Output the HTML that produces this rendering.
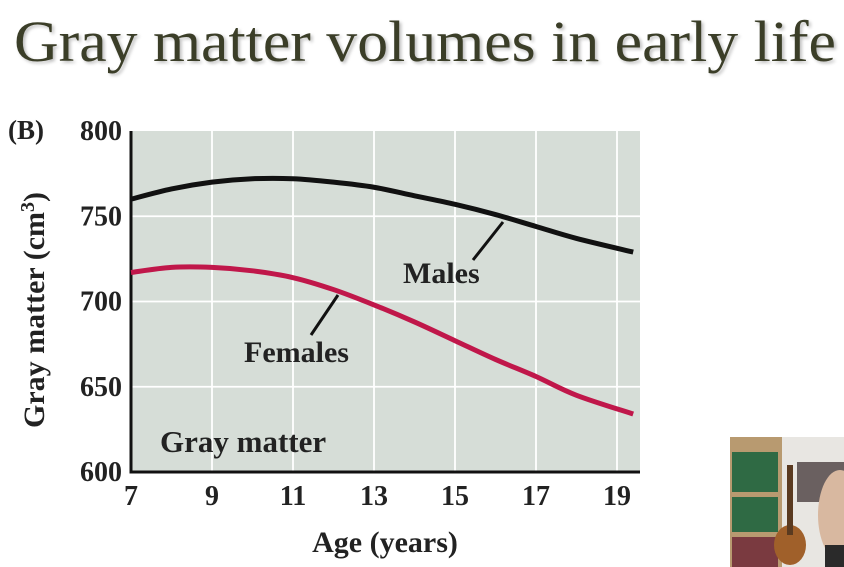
<!DOCTYPE html>
<html><head><meta charset="utf-8"><style>
html,body{margin:0;padding:0;background:#fff;}
body{width:844px;height:567px;overflow:hidden;position:relative;font-family:"Liberation Serif",serif;}
svg{position:absolute;left:0;top:0;}
</style></head><body>
<svg width="844" height="567">
<text x="14" y="61" font-family="Liberation Serif, serif" font-size="58" fill="#3b3e28" textLength="822" lengthAdjust="spacingAndGlyphs" style="text-shadow:2px 2px 3px rgba(0,0,0,0.25)">Gray matter volumes in early life</text>
<g id="chart"></g>
<g>
<rect x="730" y="437" width="114" height="130" fill="#e8e6e2"/>
<rect x="730" y="437" width="52" height="130" fill="#b89a70"/>
<rect x="732" y="452" width="46" height="40" fill="#2f6a44"/>
<rect x="732" y="497" width="46" height="35" fill="#2f6a44"/>
<rect x="732" y="537" width="46" height="30" fill="#7a3a40"/>
<rect x="797" y="462" width="47" height="40" fill="#6a6060"/>
<ellipse cx="790" cy="545" rx="16" ry="20" fill="#a0602a"/>
<rect x="787" y="465" width="6" height="70" fill="#5a3a20"/>
<ellipse cx="840" cy="515" rx="22" ry="45" fill="#d8b8a0"/>
<rect x="825" y="545" width="19" height="22" fill="#2a2a2a"/>
</g>
</svg>
<script>
const ages=[7,8,9,10,11,12,13,14,15,16,17,18,19.4];
const males=[760,766,770,772,772,770,767,762,757,751,744,737,729];
const females=[717,720,720,718,714,707,698,688,677,666,656,645,634];
const xTicks=[7,9,11,13,15,17,19];
const yTicks=[600,650,700,750,800];
const NS="http://www.w3.org/2000/svg";
const X0=131,X1=640,Y0=472,Y1=131;
function xs(a){return X0+(a-7)*(617-X0)/12;}
function ys(v){return Y0-(v-600)*(Y0-Y1)/200;}
const g=document.getElementById('chart');
function mk(t,at,p){const e=document.createElementNS(NS,t);for(const k in at)e.setAttribute(k,at[k]);(p||g).appendChild(e);return e;}
const bg=mk('rect',{x:X0,y:Y1,width:X1-X0,height:Y0-Y1,fill:'#d6ddd7'});


xTicks.slice(1).forEach(a=>{const l=mk('line',{x1:xs(a),x2:xs(a),y1:Y1,y2:Y0,stroke:'#fff','stroke-width':1.8});

});
yTicks.slice(1,4).forEach(v=>{const l=mk('line',{x1:X0,x2:X1,y1:ys(v),y2:ys(v),stroke:'#fff','stroke-width':1.8});

});
const ax=mk('path',{d:`M${X0},${Y1} L${X0},${Y0} L${X1},${Y0}`,fill:'none',stroke:'#111','stroke-width':3});


xTicks.forEach(a=>{const t=mk('text',{x:xs(a),y:505,'text-anchor':'middle','font-size':28,'font-weight':'bold',fill:'#222'});t.textContent=a;

});
yTicks.forEach(v=>{const t=mk('text',{x:122,y:ys(v)+9,'text-anchor':'end','font-size':28,'font-weight':'bold',fill:'#222'});t.textContent=v;

});
function smooth(vals){let p=[];for(let i=0;i<vals.length;i++)p.push([xs(ages[i]),ys(vals[i])]);
let d='M'+p[0];for(let i=0;i<p.length-1;i++){const p0=p[i-1]||p[i],p1=p[i],p2=p[i+1],p3=p[i+2]||p2;
const c1=[p1[0]+(p2[0]-p0[0])/6,p1[1]+(p2[1]-p0[1])/6],c2=[p2[0]-(p3[0]-p1[0])/6,p2[1]-(p3[1]-p1[1])/6];
d+=` C${c1} ${c2} ${p2}`;}return d;}
const ml=mk('path',{d:smooth(males),fill:'none',stroke:'#111','stroke-width':5,'stroke-linecap':'butt'});


const fl=mk('path',{d:smooth(females),fill:'none',stroke:'#c0174a','stroke-width':5,'stroke-linecap':'butt'});


const l1=mk('line',{x1:503,y1:222,x2:473,y2:260,stroke:'#111','stroke-width':3});


const l2=mk('line',{x1:338,y1:295,x2:311,y2:335,stroke:'#111','stroke-width':3});


function txt(x,y,s,fs,w,name,anchor){const t=mk('text',{x:x,y:y,'font-size':fs,'font-weight':w,fill:'#222','text-anchor':anchor||'start'});t.textContent=s;

return t;}
txt(403,283,'Males',30,'bold','males-label');
txt(244,362,'Females',30,'bold','females-label');
txt(160,452,'Gray matter',31,'bold','panel-subtitle');
txt(8,139,'(B)',27,'bold','panel-letter');
txt(385,552,'Age (years)',30,'bold','x-axis-title','middle');
const yt=mk('text',{transform:'translate(44,310) rotate(-90)','text-anchor':'middle','font-size':30,'font-weight':'bold',fill:'#222'});
yt.innerHTML='Gray matter (cm<tspan dy="-10" font-size="20">3</tspan><tspan dy="10">)</tspan>';


</script>
</body></html>
